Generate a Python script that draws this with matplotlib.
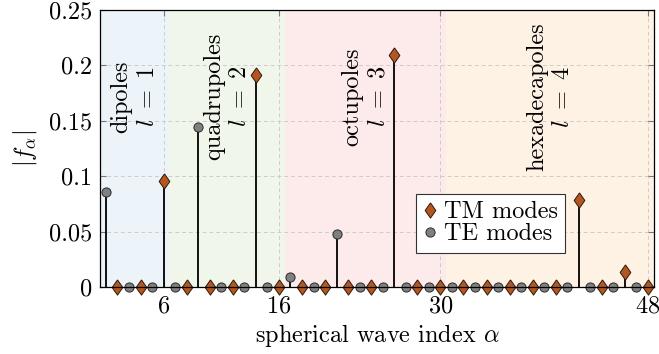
import numpy as np
import matplotlib
matplotlib.use("Agg")
import matplotlib.pyplot as plt
from matplotlib.lines import Line2D

plt.rcParams["font.family"] = "serif"
plt.rcParams["font.serif"] = ["cmr10"]
plt.rcParams["mathtext.fontset"] = "cm"
plt.rcParams["axes.formatter.use_mathtext"] = True
FS = 17.5
plt.rcParams["font.size"] = FS

# amplitudes |f_alpha| for alpha = 1..48 (odd -> TE, even -> TM)
alpha = np.arange(1, 49)
f_abs = np.zeros(48)
f_abs[1 - 1] = 0.086
f_abs[6 - 1] = 0.096
f_abs[9 - 1] = 0.144
f_abs[14 - 1] = 0.191
f_abs[17 - 1] = 0.009
f_abs[21 - 1] = 0.048
f_abs[26 - 1] = 0.209
f_abs[42 - 1] = 0.079
f_abs[46 - 1] = 0.014

te_idx = alpha[alpha % 2 == 1]
tm_idx = alpha[alpha % 2 == 0]

# multipole groups
group_bounds = [(0.5, 6.5), (6.5, 16.5), (16.5, 30.5), (30.5, 48.5)]
group_names = ["dipoles", "quadrupoles", "octupoles", "hexadecapoles"]
group_l = [1, 2, 3, 4]
group_colors = ["#ecf4f9", "#f0f7ea", "#fdeaea", "#fef2e5"]

xticks = [6, 16, 30, 48]
yticks = [0, 0.05, 0.1, 0.15, 0.2, 0.25]
ytick_labels = ["0", "0.05", "0.1", "0.15", "0.2", "0.25"]

tm_color = "#b5561f"
te_color = "#808080"
diamond = [(0, 0.5), (0.35, 0), (0, -0.5), (-0.35, 0), (0, 0.5)]

fig = plt.figure(figsize=(6.59, 3.54), dpi=100)
ax = fig.add_axes([0.152, 0.189, 0.840, 0.783])

for (a, b), c in zip(group_bounds, group_colors):
    ax.axvspan(a, b, color=c, lw=0, zorder=0)

for (a, b), name, l in zip(group_bounds, group_names, group_l):
    ax.text((a + b) / 2, 0.172, name + "\n$l\\ =\\ %d$" % l, rotation=90,
            ha="center", va="center", multialignment="center",
            linespacing=1.25, fontsize=FS, zorder=2)

ax.grid(True, color="#cccccc", ls=(0, (4, 3)), lw=0.7, zorder=1)
ax.set_axisbelow(True)

nz = f_abs > 0
ax.vlines(alpha[nz], 0, f_abs[nz], color="black", lw=1.3, zorder=3)

ax.plot(tm_idx, f_abs[tm_idx - 1], ls="none", marker=diamond, ms=11,
        mfc=tm_color, mec="#2a1a10", mew=0.7, zorder=4, clip_on=False)
ax.plot(te_idx, f_abs[te_idx - 1], ls="none", marker="o", ms=6.6,
        mfc=te_color, mec="#2a2a2a", mew=0.7, zorder=4, clip_on=False)

ax.set_xlim(0.5, 48.5)
ax.set_ylim(0, 0.25)
ax.set_xticks(xticks)
ax.set_yticks(yticks)
ax.set_yticklabels(ytick_labels)
ax.tick_params(direction="in", length=4, color="#777777", top=True,
               right=True, labelsize=FS, pad=6)
for s in ax.spines.values():
    s.set_linewidth(0.9)
    s.set_zorder(5)

ax.set_xlabel("spherical wave index $\\alpha$", fontsize=FS, labelpad=3)
ax.set_ylabel("$|f_\\alpha|$", fontsize=FS, labelpad=7)

handles = [
    Line2D([], [], ls="none", marker=diamond, ms=11, mfc=tm_color,
           mec="#2a1a10", mew=0.7),
    Line2D([], [], ls="none", marker="o", ms=6.6, mfc=te_color,
           mec="#2a2a2a", mew=0.7),
]
leg = ax.legend(handles, ["TM modes", "TE modes"], loc="lower left",
                bbox_to_anchor=(0.570, 0.124), borderaxespad=0,
                fancybox=False, framealpha=1, edgecolor="#333333",
                fontsize=FS, handlelength=0.6, handletextpad=0.25,
                labelspacing=0.0, borderpad=0.3)
leg.get_frame().set_linewidth(0.8)
leg.set_zorder(6)

fig.savefig("out.png", dpi=100)
